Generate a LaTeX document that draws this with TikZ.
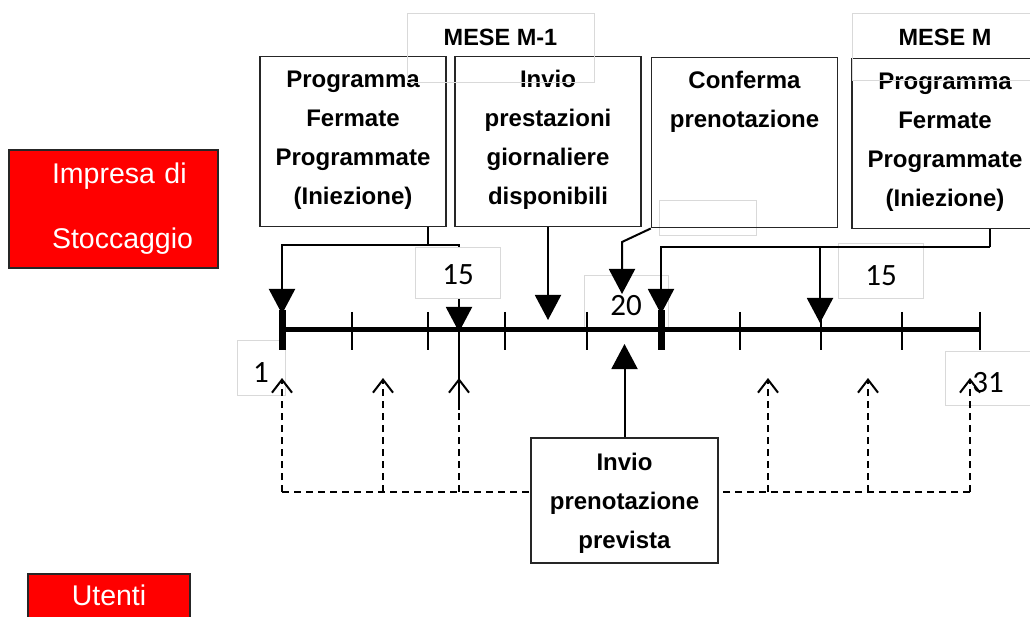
\documentclass[tikz,border=0pt]{standalone}
\usepackage{fontspec}
\setmainfont{Liberation Sans}
\newfontfamily\daynumfont{Carlito}
\usetikzlibrary{arrows.meta,positioning}

\tikzset{
  phase/.style={draw=black!85, line width=1.5pt, anchor=north, align=center, inner sep=0pt,
    text width=186pt, text height=31pt, text depth=139pt, font=\bfseries\fontsize{24}{39}\selectfont},
  actor/.style={draw=black!85, line width=1.5pt, fill=red, text=white, align=center,
    font=\fontsize{28.5}{65}\selectfont},
  faint/.style={draw=black!15, line width=1pt},
  daylabel/.style={faint, fill=white, anchor=north, inner sep=0pt, font=\daynumfont\fontsize{31}{31}\selectfont},
  monthlabel/.style={faint, anchor=north, inner sep=0pt, font=\bfseries\fontsize{23.5}{28}\selectfont},
  timeline/.style={line width=5pt},
  daytick/.style={line width=2.5pt},
  boldtick/.style={line width=7pt},
  feed/.style={line width=2pt, -{Triangle[length=25pt,width=26pt]}},
  booking/.style={line width=1.5pt, dash pattern=on 7pt off 5pt},
  bookarrow/.style={booking, -{Straight Barb[length=13pt,width=20pt,line width=2pt]}},
}

\begin{document}
\begin{tikzpicture}[x=1pt, y=-1pt]
\useasboundingbox (0,0) rectangle (1030,617);
\clip (0,0) rectangle (1030,617);

% who does what
\node[actor, align=left, text width=123pt, minimum width=209pt, minimum height=118pt] (impresa) at (113.5,209) {\mbox{Impresa di}\\\mbox{Stoccaggio}};
\node[actor, anchor=north, inner ysep=0pt, minimum width=162pt, text height=32pt, text depth=30pt] (utenti) at (109,573) {Utenti};

% day numbers
\node[daylabel, minimum width=48pt, text height=42pt, text depth=13pt] (lab1) at (261,340) {1};
\node[daylabel, minimum width=84pt, text height=40pt, text depth=12pt] (lab20) at (626,275) {20};
\node[daylabel, minimum width=85pt, text height=42pt, text depth=13pt] (lab15b) at (881,243) {15};
\node[daylabel, minimum width=86pt, text height=41pt, text depth=13pt] (lab31) at (988,351) {31};
\node[faint, minimum width=97pt, minimum height=35pt] (blank) at (707.5,218.5) {};

% time axis
\coordinate (d1) at (282,330);
\coordinate (d15) at (459,330);
\coordinate (d31) at (980,330);
\draw[timeline] (d1) -- (d31);
\foreach \x in {352,428,505,587,740,821,902,980}
  \draw[daytick] (\x,312) -- (\x,350);
\draw[boldtick] (282,310) -- (282,350);
\draw[boldtick] (661,310) -- (661,350);

% phases
\node[phase] (box1) at (353,56) {Programma\\Fermate\\Programmate\\(Iniezione)};
\node[phase] (box2) at (548,56) {Invio\\prestazioni\\giornaliere\\disponibili};
\node[phase] (box3) at (744.5,57) {Conferma\\prenotazione};
\node[phase] (box4) at (945,58) {Programma\\Fermate\\Programmate\\(Iniezione)};
\node[phase, text width=187pt, text height=33pt, text depth=92pt] (previsione) at (624.5,437) {Invio\\prenotazione\\prevista};

% solid connectors
\coordinate (split1) at (428,245);
\coordinate (tip1) at (282,314);
\coordinate (tip15) at (459,332);
\draw[line width=2pt] (box1.south -| split1) -- (split1);
\draw[feed] (split1) -| (tip1);
\draw[feed] (split1) -| (tip15);
\draw[line width=2pt] (d15) -- ++(0,80);

\coordinate (tip2) at (548,320);
\draw[feed] (box2.south) -- (tip2);

\coordinate (bend20) at (622,242);
\coordinate (tip20) at (622,294);
\draw[feed] (box3.south west) -- (bend20) -- (tip20);

\coordinate (split2) at (990,247);
\coordinate (tipM1) at (661,314);
\coordinate (tipM15) at (820,323);
\draw[line width=2pt] (box4.south -| split2) -- (split2);
\draw[feed] (split2) -| (tipM1);
\draw[feed] (split2 -| tipM15) -- (tipM15);

\coordinate (tipup) at (624.5,344);
\draw[feed] (previsione.north) -- (tipup);

\node[daylabel, minimum width=85pt, text height=37pt, text depth=14pt] (lab15a) at (458,247) {15};

% months
\node[monthlabel, minimum width=187pt, text height=32pt, text depth=37pt] (meseA) at (500.5,13) {MESE M-1};
\node[monthlabel, minimum width=186pt, text height=32pt, text depth=35pt] (meseB) at (945,13) {MESE M};

% dashed bookings
\coordinate (bookL) at (282,492);
\coordinate (bookR) at (970,492);
\draw[booking] (bookL) -- (bookL -| previsione.west);
\draw[booking] (bookR) -- (bookR -| previsione.east);
\foreach \x in {282,383,459,768,868,970}
  \draw[bookarrow] (\x,492) -- (\x,378);
\end{tikzpicture}
\end{document}
